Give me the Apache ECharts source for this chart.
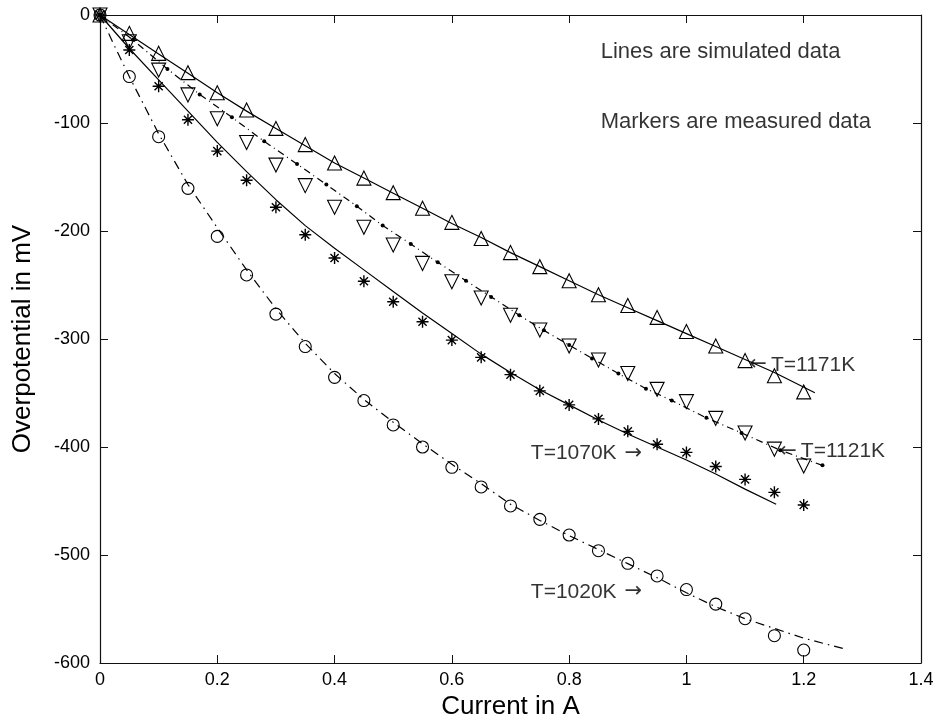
<!DOCTYPE html>
<html>
<head>
<meta charset="utf-8">
<script src="https://cdn.jsdelivr.net/npm/echarts@6/dist/echarts.min.js"></script>
<style>
html,body{margin:0;padding:0;background:#fff;}
#chart{width:939px;height:727px;}
</style>
</head>
<body>
<div id="chart"></div>
<script>
// Measured data (markers)
var currentMeasured = [0,0.05,0.1,0.15,0.2,0.25,0.3,0.35,0.4,0.45,0.5,0.55,0.6,0.65,0.7,0.75,0.8,0.85,0.9,0.95,1.0,1.05,1.1,1.15,1.2];
var meas1171 = [0,-17,-35.5,-53.4,-72,-88,-105,-120,-137,-151,-164.5,-179,-192,-207,-220,-233,-246,-259,-269,-280,-293,-306.5,-320,-334,-349];
var meas1121 = [0,-24.7,-51,-74,-96,-118,-139,-158,-178,-196.5,-213,-230,-247,-262,-278,-291.7,-306.5,-319.4,-332,-346.6,-358,-373.5,-387,-402,-417.6];
var meas1070 = [0,-32.4,-66,-97,-126,-153,-178,-203.5,-225,-246.5,-265.5,-284,-301,-317,-333,-348,-361,-374,-385.5,-397.5,-405,-418,-430,-442,-453.7];
var meas1020 = [0,-57,-112.7,-160.5,-205,-240.7,-277,-307,-335.5,-357,-379.6,-400,-418.8,-437,-454.6,-467,-481.5,-496,-507.7,-519.4,-532,-545.5,-559,-574.7,-588];

// Simulated data (lines)
var sim1171X = [0,0.05,0.1,0.15,0.2,0.25,0.3,0.35,0.4,0.45,0.5,0.55,0.6,0.65,0.7,0.75,0.8,0.85,0.9,0.95,1.0,1.05,1.1,1.15,1.219];
var sim1171Y = [0,-18,-36,-54,-72,-89,-105,-121,-137,-151,-165,-179,-193,-206,-220,-233,-246,-259,-271,-283,-295,-307,-319,-331,-349.7];
var sim1121X = [0,0.056,0.115,0.17,0.225,0.28,0.336,0.386,0.438,0.482,0.53,0.576,0.624,0.667,0.715,0.757,0.8,0.839,0.884,0.931,0.975,1.034,1.094,1.16,1.232];
var sim1121Y = [0,-23,-50,-73.5,-94.7,-117,-138,-157,-177,-195,-212,-229,-246,-261,-278,-292,-305.6,-318,-332,-346,-357,-373,-387,-403,-417];
var sim1070X = [0,0.05,0.1,0.15,0.2,0.25,0.3,0.35,0.4,0.45,0.5,0.55,0.6,0.65,0.7,0.75,0.8,0.85,0.9,0.95,1.0,1.05,1.1,1.153];
var sim1070Y = [0,-31,-60,-89,-118,-145,-171,-195,-216,-236,-256,-276,-295,-314,-331,-347,-361,-375,-388,-400,-412,-425,-439,-453];
var sim1020X = [0,0.025,0.05,0.1,0.15,0.2,0.25,0.3,0.35,0.4,0.45,0.5,0.55,0.6,0.65,0.7,0.75,0.8,0.85,0.9,0.95,1.0,1.05,1.1,1.15,1.2,1.27];
var sim1020Y = [0,-29,-57,-110,-157,-197,-236,-272,-304,-332,-356,-377,-397,-416,-434,-453,-468,-482,-495,-508,-521,-535,-548,-559,-568,-577,-587];

// Tick / annotation text
var xTicks = [0,0.2,0.4,0.6,0.8,1,1.2,1.4];
var yTicks = [0,-100,-200,-300,-400,-500,-600];
var annoText = ['Lines are simulated data','Markers are measured data','{a|\u2190}T=1171K','{a|\u2190}T=1121K','T=1070K {a|\u2192}','T=1020K {a|\u2192}'];
var annoAt = [[0.853,-34],[0.853,-99],[1.103,-324],[1.154,-404],[0.932,-406],[0.932,-534]];
var annoSide = ['right','right','right','right','left','left'];

function pairs(xs, ys){ return xs.map(function(x,i){ return [x, ys[i]]; }); }

var FONT = '"Liberation Sans", Arial, Helvetica, sans-serif';
var axisCol = '#111';
var starPath = 'path://M5,0L5,10M0,5L10,5M1.6,1.6L8.4,8.4M1.6,8.4L8.4,1.6';

var chart = echarts.init(document.getElementById('chart'), null, {renderer:'canvas'});

function xAxisBase(pos, showLabel){
  return {
    type:'value', position:pos, min:0, max:1.4, interval:0.2,
    name: showLabel ? 'Current in A' : '', nameLocation:'middle', nameGap:30,
    nameTextStyle:{fontFamily:FONT, fontSize:26, color:'#000'},
    axisLine:{show:true, onZero:false, lineStyle:{color:axisCol, width:1.2}},
    axisTick:{show:true, inside:true, length:8, lineStyle:{color:axisCol}},
    axisLabel:{show:showLabel, fontFamily:FONT, fontSize:18, color:'#000', margin:8,
      formatter:function(v){ return String(Math.round(v*10)/10); }},
    splitLine:{show:false}
  };
}
function yAxisBase(pos, showLabel){
  return {
    type:'value', position:pos, min:-600, max:0, interval:100,
    name: showLabel ? 'Overpotential in mV' : '', nameLocation:'middle', nameGap:64,
    nameTextStyle:{fontFamily:FONT, fontSize:26, color:'#000'},
    axisLine:{show:true, onZero:false, lineStyle:{color:axisCol, width:1.2}},
    axisTick:{show:true, inside:true, length:8, lineStyle:{color:axisCol}},
    axisLabel:{show:showLabel, fontFamily:FONT, fontSize:18, color:'#000', margin:10},
    splitLine:{show:false}
  };
}

function simLine(xs, ys, dash, withDots){
  return {
    type:'line', xAxisIndex:0, yAxisIndex:0, data:pairs(xs, ys),
    showSymbol: !!withDots, symbol: withDots ? 'circle' : 'none', symbolSize:4,
    itemStyle:{color:'#000'},
    lineStyle:{color:'#000', width:1.2, type:dash},
    silent:true, animation:false, z:2
  };
}
function markers(ys, symbol, size, rotate, bw){
  return {
    type:'scatter', xAxisIndex:0, yAxisIndex:0, data:pairs(currentMeasured, ys),
    symbol:symbol, symbolSize:size, symbolRotate:rotate||0,
    itemStyle:{color:'rgba(0,0,0,0)', borderColor:'#000', borderWidth:bw||1.1, opacity:1},
    silent:true, animation:false, z:3
  };
}

var annoData = annoText.map(function(t,i){
  return {
    value: annoAt[i],
    label:{show:true, formatter:t, position:annoSide[i], distance:0,
      fontFamily:FONT, fontSize: i<2 ? 22 : 21, color:'#000',
      rich:{a:{fontFamily:'"DejaVu Sans", sans-serif', fontSize:21, color:'#000', padding:[0,4,0,2]}}}
  };
});

chart.setOption({
  animation:false,
  backgroundColor:'#fff',
  grid:{left:100, right:18, top:15, bottom:64, containLabel:false},
  xAxis:[xAxisBase('bottom', true), xAxisBase('top', false)],
  yAxis:[yAxisBase('left', true), yAxisBase('right', false)],
  series:[
    simLine(sim1171X, sim1171Y, 'solid', false),
    simLine(sim1121X, sim1121Y, [7,4,1,4], true),
    simLine(sim1070X, sim1070Y, 'solid', false),
    simLine(sim1020X, sim1020Y, [9,5,1.5,5], false),
    markers(meas1171, 'triangle', 14, 0),
    markers(meas1121, 'triangle', 14, 180),
    markers(meas1070, starPath, 12, 0, 1.4),
    markers(meas1020, 'circle', 12, 0),
    {
      type:'scatter', xAxisIndex:0, yAxisIndex:0, data:annoData,
      symbolSize:1, itemStyle:{color:'rgba(0,0,0,0)'}, silent:true, animation:false, z:5
    }
  ]
});
</script>
</body>
</html>
